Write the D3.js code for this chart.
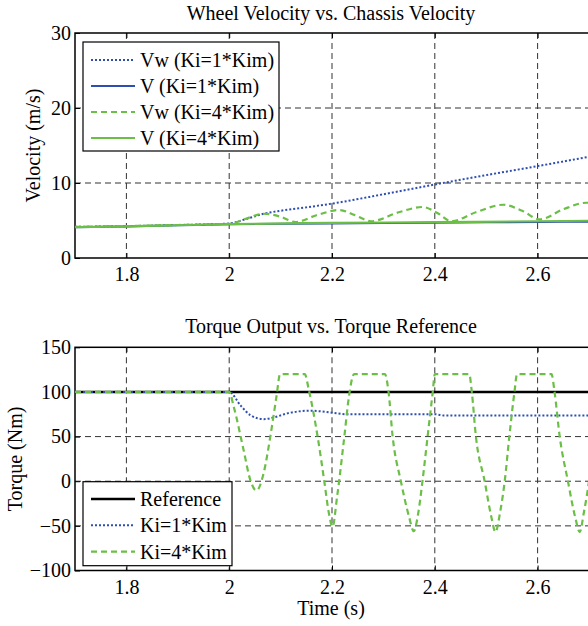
<!DOCTYPE html>
<html>
<head>
<meta charset="utf-8">
<script src="https://cdn.jsdelivr.net/npm/d3@7"></script>
<style>
  body { margin: 0; background: #fff; }
  svg { display: block; font-family: "Liberation Serif", "Times New Roman", serif; }
</style>
</head>
<body>
<svg id="chart" width="588" height="626"></svg>
<script>
// 数据: 车轮速度 vs 车身速度
const xTicks = [1.8, 2, 2.2, 2.4, 2.6];
const velTicks = [0, 10, 20, 30];
const torqueTicks = [-100, -50, 0, 50, 100, 150];

const vwKi1Time = [1.7, 1.8, 1.9, 2.0, 2.033, 2.067, 2.1, 2.15, 2.2, 2.3, 2.4, 2.5, 2.6, 2.7];
const vwKi1 = [4.15, 4.25, 4.4, 4.6, 5.2, 5.9, 6.3, 6.75, 7.25, 8.5, 9.8, 11.05, 12.25, 13.5];

const vKi1Time = [1.7, 1.8, 1.9, 2.0, 2.2, 2.4, 2.6, 2.7];
const vKi1 = [4.1, 4.2, 4.35, 4.5, 4.6, 4.7, 4.8, 4.85];

const vwKi4Time = [1.7, 1.8, 1.9, 2.0, 2.035, 2.067, 2.1, 2.129, 2.17, 2.214, 2.245, 2.276, 2.33, 2.376, 2.405, 2.432, 2.48, 2.533, 2.57, 2.604, 2.65, 2.695, 2.72];
const vwKi4 = [4.15, 4.25, 4.4, 4.55, 5.3, 5.9, 5.5, 4.8, 5.7, 6.4, 5.7, 4.9, 6.1, 6.8, 6.0, 4.9, 6.1, 7.1, 6.3, 5.15, 6.5, 7.37, 7.2];

const vKi4Time = [1.7, 1.8, 1.9, 2.0, 2.2, 2.4, 2.6, 2.7];
const vKi4 = [4.12, 4.22, 4.37, 4.52, 4.68, 4.78, 4.9, 4.97];

// 数据: 转矩输出 vs 转矩参考
const refTime = [1.7, 2.7];
const torqueRef = [100, 100];

const tqKi1Time = [1.7, 2.0, 2.022, 2.041, 2.067, 2.09, 2.113, 2.158, 2.197, 2.23, 2.4, 2.42, 2.7];
const tqKi1 = [100, 100, 85, 74, 69.5, 72, 76, 79, 77, 75, 75, 73.5, 73.5];

const tqKi4Time = [1.7, 2.0, 2.009, 2.028, 2.041, 2.053, 2.067, 2.08, 2.092, 2.099, 2.147, 2.155, 2.172, 2.185, 2.194, 2.201, 2.21, 2.224, 2.233, 2.243,
  2.303, 2.31, 2.318, 2.334, 2.35, 2.359, 2.368, 2.376, 2.386, 2.396, 2.40,
  2.467, 2.472, 2.48, 2.497, 2.51, 2.518, 2.527, 2.536, 2.545, 2.555, 2.56,
  2.627, 2.633, 2.643, 2.659, 2.673, 2.682, 2.69, 2.70, 2.71, 2.72, 2.725];
const tqKi4 = [100, 100, 83, 35, 1.5, -10.5, 9, 50, 95, 120, 120, 102, 50, 0, -36, -51, -17, 50, 95, 120,
  120, 100, 50, 0, -40, -56, -35, 0, 50, 100, 120,
  120, 100, 50, 0, -40, -57, -35, 0, 50, 100, 120,
  120, 100, 50, 0, -40, -57, -35, 0, 50, 100, 120];

// 颜色配置
const colors = {
    blue: "#2f4fb0",
    green: "#6cbf46",
    black: "#000"
};

const svg = d3.select("#chart");
const left = 75, right = 589;

function zip(t, v) { return t.map((d, i) => [d, v[i]]); }

// 去掉 d3 默认的无衬线字体
function serif(a) {
    a.attr("font-family", null).attr("font-size", null);
    a.select(".domain").remove();
    a.selectAll("text").attr("font-size", 20);
}

function drawPanel(opt) {
    const x = d3.scaleLinear().domain([1.7, 2.7]).range([left, right]);
    const y = d3.scaleLinear().domain(opt.domain).range([opt.bottom, opt.top]);
    const g = svg.append("g");

    // 网格
    g.append("g").selectAll("line").data(xTicks).enter().append("line")
        .attr("x1", d => x(d)).attr("x2", d => x(d))
        .attr("y1", opt.top).attr("y2", opt.bottom)
        .attr("stroke", "#333").attr("stroke-dasharray", "6,4");
    g.append("g").selectAll("line").data(opt.yTicks.slice(1, -1)).enter().append("line")
        .attr("x1", left).attr("x2", right)
        .attr("y1", d => y(d)).attr("y2", d => y(d))
        .attr("stroke", "#333").attr("stroke-dasharray", "6,4");

    // 坐标轴 (刻度朝内)
    g.append("g").attr("transform", `translate(0,${opt.bottom})`)
        .call(d3.axisBottom(x).tickValues(xTicks).tickSizeInner(-5).tickSizeOuter(0).tickPadding(9).tickFormat(d3.format("")))
        .call(serif);
    g.append("g").attr("transform", `translate(0,${opt.top})`)
        .call(d3.axisTop(x).tickValues(xTicks).tickSizeInner(-5).tickSizeOuter(0).tickFormat(""))
        .call(serif);
    g.append("g").attr("transform", `translate(${left},0)`)
        .call(d3.axisLeft(y).tickValues(opt.yTicks).tickSizeInner(-5).tickSizeOuter(0).tickPadding(4))
        .call(serif);

    g.append("rect").attr("x", left).attr("y", opt.top)
        .attr("width", right - left).attr("height", opt.bottom - opt.top)
        .attr("fill", "none").attr("stroke", "#000").attr("stroke-width", 1.5);

    // 曲线
    const clipId = "clip" + Math.round(opt.top);
    svg.append("clipPath").attr("id", clipId).append("rect")
        .attr("x", left).attr("y", opt.top).attr("width", right - left).attr("height", opt.bottom - opt.top);
    const line = d3.line().x(d => x(d[0])).y(d => y(d[1])).curve(d3.curveMonotoneX);
    const lines = g.append("g").attr("clip-path", `url(#${clipId})`);
    opt.series.forEach(s => {
        lines.append("path").datum(s.data)
            .attr("fill", "none").attr("stroke", s.color).attr("stroke-width", s.width)
            .attr("stroke-dasharray", s.dash).attr("d", line);
    });

    // 标题与轴标签
    g.append("text").attr("x", 331).attr("y", opt.titleY).attr("text-anchor", "middle")
        .attr("font-size", 20).text(opt.title);
    g.append("text").attr("transform", `translate(${opt.labelX},${(opt.top + opt.bottom) / 2}) rotate(-90)`)
        .attr("text-anchor", "middle").attr("font-size", 20).text(opt.yLabel);

    // 图例
    const L = opt.legend;
    g.append("rect").attr("x", 83).attr("y", L.y)
        .attr("width", L.w).attr("height", L.h)
        .attr("fill", "#fff").attr("stroke", "#000").attr("stroke-width", 1.2);
    const item = g.append("g").selectAll("g").data(opt.series).enter().append("g")
        .attr("transform", (d, i) => `translate(0,${L.first + i * L.step})`);
    item.append("line").attr("x1", 91).attr("x2", 135)
        .attr("stroke", d => d.color).attr("stroke-width", d => d.width)
        .attr("stroke-dasharray", d => d.dash);
    item.append("text").attr("x", 140).attr("dy", "0.35em").attr("font-size", 20).text(d => d.name);
}

drawPanel({
    top: 33, bottom: 258, domain: [0, 30], yTicks: velTicks,
    title: "Wheel Velocity vs. Chassis Velocity", titleY: 20,
    yLabel: "Velocity (m/s)", labelX: 40,
    legend: { y: 42, w: 196, h: 109, first: 60, step: 26 },
    series: [
        { name: "Vw (Ki=1*Kim)", data: zip(vwKi1Time, vwKi1), color: colors.blue, width: 2, dash: "2,2" },
        { name: "V (Ki=1*Kim)", data: zip(vKi1Time, vKi1), color: colors.blue, width: 2, dash: null },
        { name: "Vw (Ki=4*Kim)", data: zip(vwKi4Time, vwKi4), color: colors.green, width: 2.2, dash: "6,4" },
        { name: "V (Ki=4*Kim)", data: zip(vKi4Time, vKi4), color: colors.green, width: 2.2, dash: null }
    ]
});

drawPanel({
    top: 347.3, bottom: 570.5, domain: [-100, 150], yTicks: torqueTicks,
    title: "Torque Output vs. Torque Reference", titleY: 333,
    yLabel: "Torque (Nm)", labelX: 22,
    legend: { y: 481.7, w: 149, h: 84, first: 499, step: 26.3 },
    series: [
        { name: "Reference", data: zip(refTime, torqueRef), color: colors.black, width: 2.5, dash: null },
        { name: "Ki=1*Kim", data: zip(tqKi1Time, tqKi1), color: colors.blue, width: 2, dash: "2,2" },
        { name: "Ki=4*Kim", data: zip(tqKi4Time, tqKi4), color: colors.green, width: 2.2, dash: "6,4" }
    ]
});

svg.append("text").attr("x", 331).attr("y", 615).attr("text-anchor", "middle")
    .attr("font-size", 20).text("Time (s)");
</script>
</body>
</html>
